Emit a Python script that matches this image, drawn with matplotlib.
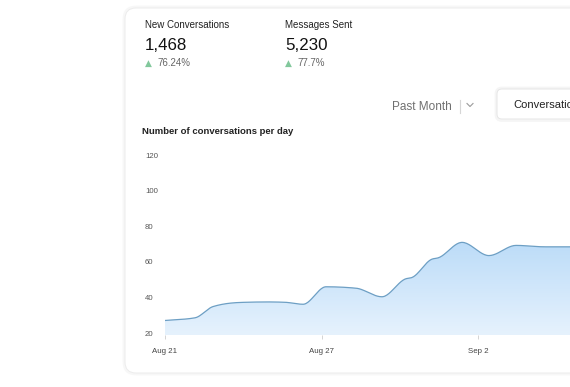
import numpy as np
import matplotlib.pyplot as plt
from matplotlib.patches import FancyBboxPatch
from matplotlib.transforms import IdentityTransform
from matplotlib.colors import LinearSegmentedColormap

plt.rcParams['font.family'] = ['Liberation Sans', 'DejaVu Sans']

# datos (dias desde Aug 21, conversaciones)
day_offset = [0, 1.15, 1.84, 2.87, 3.95, 4.6, 5.29, 6.17, 7.32, 8.31,
              9.23, 9.46, 10.23, 10.46, 11.38, 12.41, 13.45, 14.56, 15.52, 16.67]
conversations = [27.2, 28.7, 35.0, 37.3, 37.6, 37.4, 36.3, 46.1, 45.3, 40.5,
                 50.6, 51.3, 61.6, 62.3, 71.0, 63.6, 69.3, 68.5, 68.5, 68.5]
tick_days = [0, 6, 12]
tick_labels = ['Aug 21', 'Aug 27', 'Sep 2']
y_ticks = [20, 40, 60, 80, 100, 120]

W, H = 570, 387
fig = plt.figure(figsize=(W / 100, H / 100), dpi=100)
fig.patch.set_facecolor('white')


def px(x, y):
    return x / W, 1 - y / H


def rbox(x0, y0, x1, y1, r, ec, lw, fc='white', z=0):
    # caja redondeada en pixeles (y desde arriba)
    p = FancyBboxPatch((x0, H - y1), x1 - x0, y1 - y0,
                       boxstyle=f"round,pad=0,rounding_size={r}",
                       transform=IdentityTransform(), fc=fc, ec=ec,
                       lw=lw, zorder=z)
    fig.patches.append(p)


# tarjeta con sombra suave
rbox(124, 7, 620, 374, 12, '#f7f7f7', 2, z=0)
rbox(125, 8, 620, 373, 11, '#ececec', 0.7, z=0)

# boton
rbox(496, 88, 640, 120.5, 6, '#f5f5f5', 2, z=1)
rbox(497, 89, 640, 119, 5, '#e6e6e6', 0.7, z=1)

# textos de resumen
fig.text(*px(145, 28), 'New Conversations', fontsize=7, color='#222222')
fig.text(*px(145, 50), '1,468', fontsize=12.2, color='#111111')
fig.text(*px(144.5, 66), '▲', fontsize=6.5, color='#82c89c', family='DejaVu Sans')
fig.text(*px(157, 66), '76.24%', fontsize=7, color='#666666')

fig.text(*px(285, 28), 'Messages Sent', fontsize=7, color='#222222')
fig.text(*px(285, 50), '5,230', fontsize=12.2, color='#111111')
fig.text(*px(284.5, 66), '▲', fontsize=6.5, color='#82c89c', family='DejaVu Sans')
fig.text(*px(297, 66), '77.7%', fontsize=7, color='#666666')

fig.text(*px(392, 109.5), 'Past Month', fontsize=8.5, color='#707070')
fig.add_artist(plt.Line2D([459.5 / W, 459.5 / W], [1 - 100 / H, 1 - 113 / H],
                          color='#d6d6d6', lw=0.8, transform=fig.transFigure))
fig.add_artist(plt.Line2D([467 / W, 470 / W, 473 / W], [1 - 103.5 / H, 1 - 106.5 / H, 1 - 103.5 / H],
                          color='#9a9a9a', lw=0.8, transform=fig.transFigure))
fig.text(*px(513, 108.5), 'Conversations', fontsize=8, color='#222222', zorder=2)

fig.text(*px(142, 134), 'Number of conversations per day', fontsize=6.8,
         fontweight='bold', color='#222222')

# grafico
ax = fig.add_axes([165 / W, (H - 335.1) / H, 405 / W, (335.1 - 155) / H])
ax.set_facecolor('none')
ax.set_zorder(5)


def monotone(x, y, n=24):
    x = np.asarray(x, float)
    y = np.asarray(y, float)
    h = np.diff(x)
    s = np.diff(y) / h
    m = np.zeros_like(y)
    m[0], m[-1] = s[0], s[-1]
    for i in range(1, len(y) - 1):
        if s[i - 1] * s[i] <= 0:
            m[i] = 0
        else:
            p = (s[i - 1] * h[i] + s[i] * h[i - 1]) / (h[i - 1] + h[i])
            m[i] = np.sign(s[i]) * min(abs(s[i - 1]), abs(s[i]), 0.5 * abs(p)) * 2
    xs, ys = [], []
    for i in range(len(y) - 1):
        t = np.linspace(0, 1, n, endpoint=False)
        h00 = 2 * t**3 - 3 * t**2 + 1
        h10 = t**3 - 2 * t**2 + t
        h01 = -2 * t**3 + 3 * t**2
        h11 = t**3 - t**2
        xs.append(x[i] + t * h[i])
        ys.append(h00 * y[i] + h10 * h[i] * m[i] + h01 * y[i + 1] + h11 * h[i] * m[i + 1])
    xs.append([x[-1]])
    ys.append([y[-1]])
    return np.concatenate(xs), np.concatenate(ys)


xs, ys = monotone(day_offset, conversations)
ymin = 19

poly = ax.fill_between(xs, ys, ymin, color='none', lw=0)
cmap = LinearSegmentedColormap.from_list('azul', ['#e6f2fd', '#bcdcf8'])
grad = np.linspace(0, 1, 256).reshape(-1, 1)
im = ax.imshow(grad, extent=[xs[0], xs[-1], ymin, max(conversations)],
               origin='lower', aspect='auto', cmap=cmap, zorder=1)
im.set_clip_path(poly.get_paths()[0], transform=ax.transData)
ax.plot(xs, ys, color='#6d9fc4', lw=0.9, zorder=2)

ax.set_xlim(0, 405 / 26.1)
ax.set_ylim(ymin, 120)
for sp in ax.spines.values():
    sp.set_visible(False)

ax.set_yticks(y_ticks)
ax.set_yticklabels([str(v) for v in y_ticks])
ax.tick_params(axis='y', length=0, pad=14.4, labelsize=5.6, labelcolor='#555555')
for lab in ax.get_yticklabels():
    lab.set_horizontalalignment('left')

ax.set_xticks(tick_days)
ax.set_xticklabels(tick_labels)
ax.tick_params(axis='x', length=3, width=0.7, color='#d4d4d4', pad=6,
               labelsize=5.7, labelcolor='#444444')

fig.savefig('out.png', dpi=100)
